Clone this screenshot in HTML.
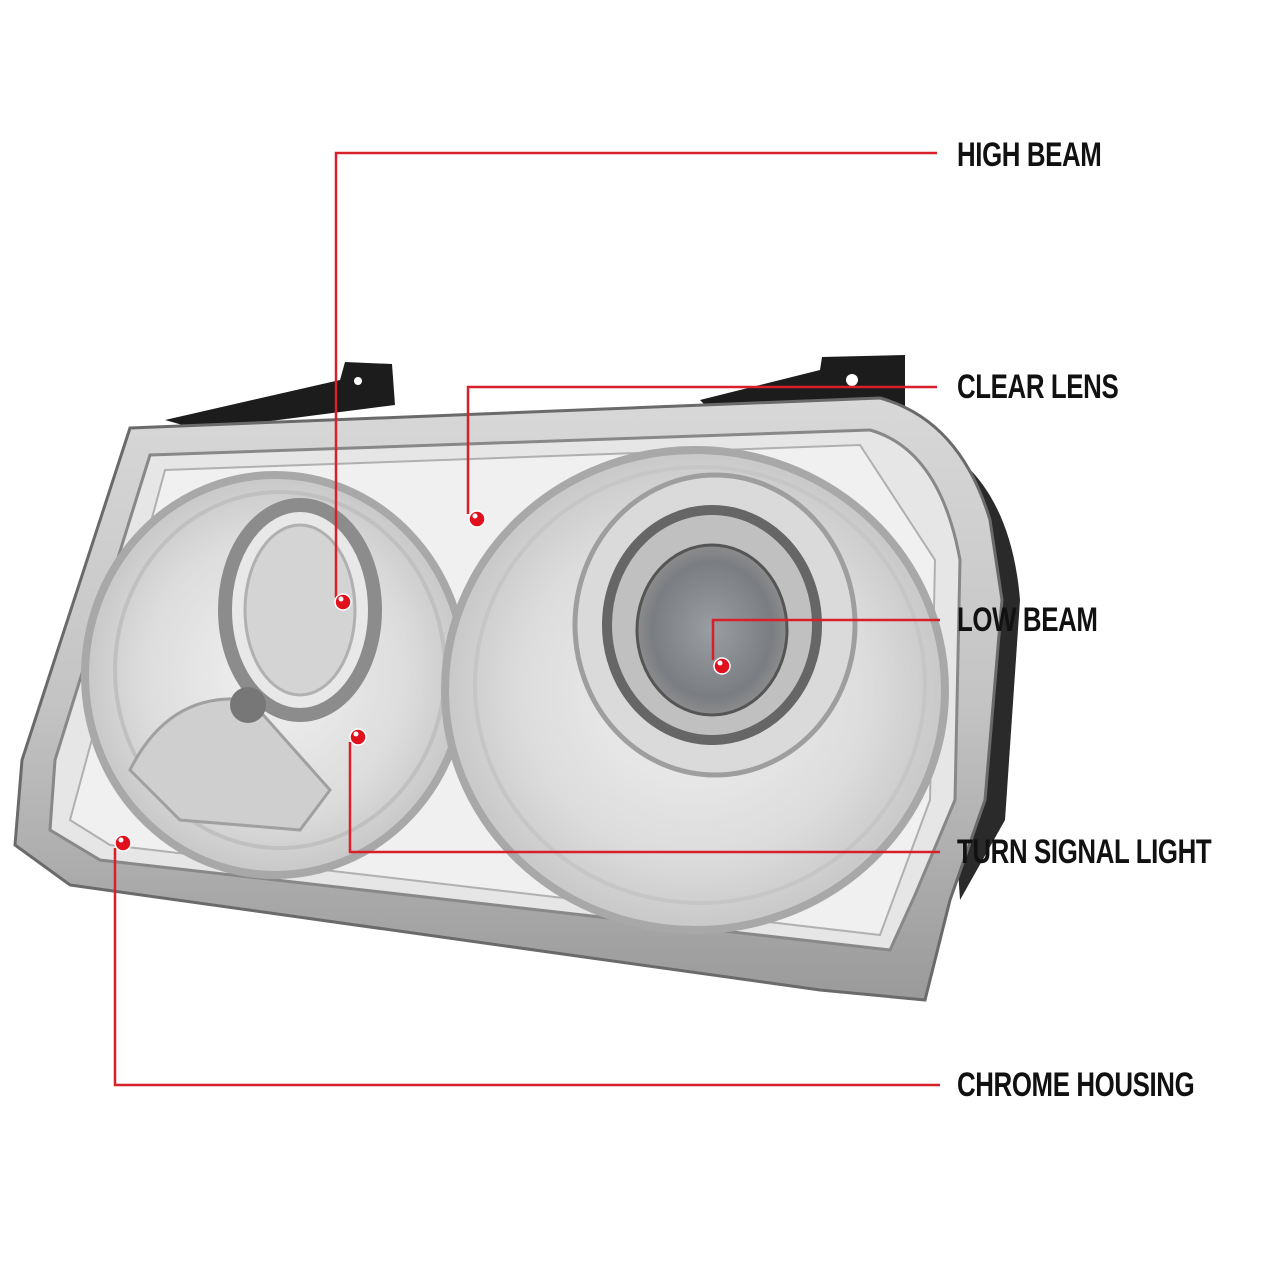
<!DOCTYPE html>
<html><head><meta charset="utf-8"><style>
html,body{margin:0;padding:0;background:#fff;width:1280px;height:1280px;overflow:hidden}
.lbl{position:absolute;font-family:"Liberation Sans",sans-serif;font-weight:bold;font-size:34px;color:#111;transform:scaleX(0.76);transform-origin:0 0;white-space:nowrap;letter-spacing:-0.5px}
</style></head><body>
<svg width="1280" height="1280" style="position:absolute;left:0;top:0">
<defs>
<linearGradient id="body" x1="0" y1="0" x2="0" y2="1">
<stop offset="0" stop-color="#d8d8d8"/><stop offset="0.5" stop-color="#c4c4c4"/><stop offset="1" stop-color="#9a9a9a"/></linearGradient>
<radialGradient id="lens" cx="0.5" cy="0.5" r="0.5">
<stop offset="0" stop-color="#f2f2f2"/><stop offset="0.7" stop-color="#dcdcdc"/><stop offset="1" stop-color="#c8c8c8"/></radialGradient>
<radialGradient id="proj" cx="0.5" cy="0.5" r="0.5">
<stop offset="0" stop-color="#9a9da2"/><stop offset="0.8" stop-color="#7a7d82"/><stop offset="1" stop-color="#8c8c8c"/></radialGradient>
</defs>
<path d="M165 420 L340 380 L345 362 L392 364 L395 405 L200 430Z" fill="#1c1c1c"/>
<path d="M700 400 L820 370 L822 357 L905 355 L905 430 L870 440 L720 420Z" fill="#1c1c1c"/>
<circle cx="358" cy="381" r="4" fill="#fff"/>
<circle cx="852" cy="380" r="6" fill="#fff"/>
<path d="M930 440 Q1010 480 1020 600 L1005 820 L960 900 Z" fill="#2a2a2a"/>
<path d="M130 428 L880 398 Q960 420 990 520 L1002 600 L985 800 L950 900 L925 1000 L820 990 L70 885 L15 845 L22 760 Z" fill="url(#body)" stroke="#6a6a6a" stroke-width="3"/>
<path d="M150 455 L870 430 Q940 450 960 560 L955 800 L915 895 L890 950 L100 860 L50 830 L55 760 Z" fill="#e6e6e6" stroke="#888" stroke-width="3"/>
<path d="M165 470 L860 445 L935 560 L930 800 L880 935 L110 845 L70 820 Z" fill="#f0f0f0" stroke="#b0b0b0" stroke-width="2"/>
<ellipse cx="275" cy="675" rx="190" ry="200" fill="url(#lens)" stroke="#a8a8a8" stroke-width="8"/>
<ellipse cx="280" cy="670" rx="165" ry="178" fill="none" stroke="#c0c0c0" stroke-width="4"/>
<ellipse cx="300" cy="610" rx="75" ry="105" fill="#e8e8e8" stroke="#8c8c8c" stroke-width="14"/>
<ellipse cx="300" cy="610" rx="55" ry="85" fill="#d4d4d4" stroke="#b0b0b0" stroke-width="3"/>
<path d="M130 770 Q170 690 250 700 L330 790 L300 830 L180 820Z" fill="#cfcfcf" stroke="#a0a0a0" stroke-width="3"/>
<circle cx="248" cy="705" r="18" fill="#777"/>
<ellipse cx="695" cy="690" rx="250" ry="240" fill="url(#lens)" stroke="#a8a8a8" stroke-width="8"/>
<ellipse cx="700" cy="685" rx="225" ry="218" fill="none" stroke="#c6c6c6" stroke-width="4"/>
<ellipse cx="715" cy="625" rx="140" ry="150" fill="#dadada" stroke="#9e9e9e" stroke-width="5"/>
<ellipse cx="712" cy="625" rx="105" ry="115" fill="#c0c0c0" stroke="#666" stroke-width="10"/>
<ellipse cx="712" cy="630" rx="75" ry="85" fill="url(#proj)" stroke="#555" stroke-width="3"/>
<g stroke="#d8202a" stroke-width="2.5" fill="none">
<polyline points="937,153 336,153 336,598"/>
<polyline points="937,387 468,387 468,514"/>
<polyline points="940,620 713,620 713,660"/>
<polyline points="940,852 350,852 350,742"/>
<polyline points="940,1085 115,1085 115,848"/>
</g>
<g fill="#e0101c" stroke="#fff" stroke-width="1.5">
<circle cx="343" cy="602" r="8"/><circle cx="477" cy="519" r="8"/><circle cx="722" cy="666" r="8"/><circle cx="358" cy="737" r="8"/><circle cx="123" cy="843" r="8"/>
</g>
<g fill="#fff"><circle cx="341" cy="599" r="2.5"/><circle cx="475" cy="516" r="2.5"/><circle cx="720" cy="663" r="2.5"/><circle cx="356" cy="734" r="2.5"/><circle cx="121" cy="840" r="2.5"/></g>
</svg>
<div class="lbl" style="left:957px;top:136px">HIGH BEAM</div>
<div class="lbl" style="left:957px;top:368px">CLEAR LENS</div>
<div class="lbl" style="left:957px;top:601px">LOW BEAM</div>
<div class="lbl" style="left:957px;top:833px">TURN SIGNAL LIGHT</div>
<div class="lbl" style="left:957px;top:1066px">CHROME HOUSING</div>
</body></html>
